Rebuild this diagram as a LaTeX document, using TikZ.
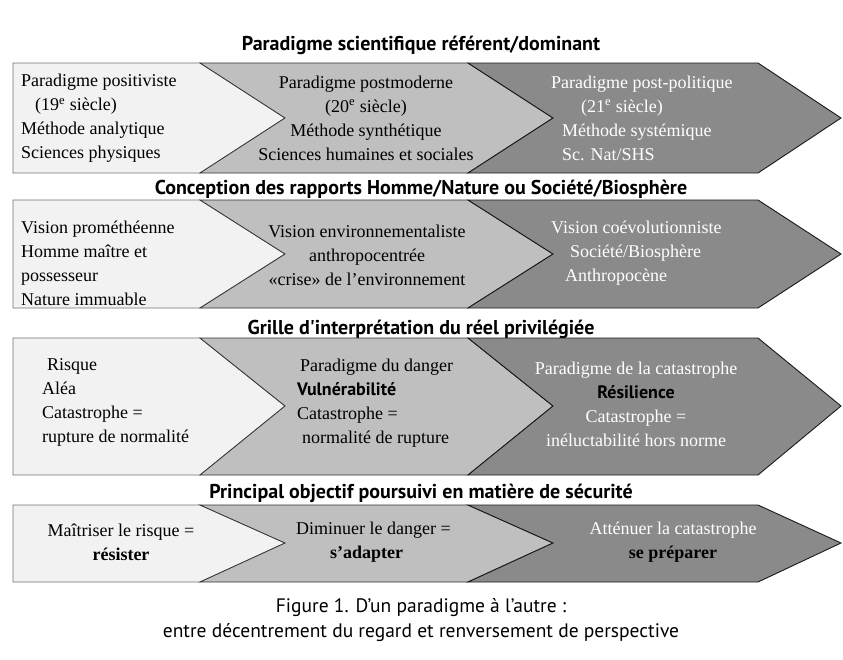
\documentclass[tikz,border=0pt]{standalone}
\usepackage{fontspec}
\setmainfont{Liberation Serif}
\newfontfamily\headfont{PT Sans}

\begin{document}
\begin{tikzpicture}[yscale=-1, x=1pt, y=1pt,
    chevWhite/.style={fill=black!5, draw=black!55, line width=0.7pt},
    chevLight/.style={fill=black!25, draw=black!80, line width=0.8pt},
    chevDark/.style={fill=black!46, draw=black!90, line width=0.9pt},
    rowTitle/.style={font=\headfont\bfseries\fontsize{20}{22}\selectfont},
    boxText/.style={font=\fontsize{18}{24}\selectfont, inner sep=0pt},
    darkText/.style={boxText, text=white},
    capText/.style={font=\headfont\fontsize{19.5}{25}\selectfont, align=center}]
    \useasboundingbox[fill=white] (0,0) rectangle (843,659);

    % Draw the titles of the rows
    \node[rowTitle] (title1) at (421,45) {Paradigme scientifique référent/dominant};
    \node[rowTitle] (title2) at (421,189) {Conception des rapports Homme/Nature ou Société/Biosphère};
    \node[rowTitle] (title3) at (421,329) {Grille d'interprétation du réel privilégiée};
    \node[rowTitle] (title4) at (421,493) {Principal objectif poursuivi en matière de sécurité};

    % Row 1
    \draw[chevWhite] (13,63) -- (200,63) -- (285,118) -- (200,173) -- (13,173) -- cycle;
    \draw[chevLight] (200,63) -- (468,63) -- (553,118) -- (468,173) -- (200,173) -- (285,118) -- cycle;
    \draw[chevDark] (468,63) -- (758,63) -- (841,118) -- (758,173) -- (468,173) -- (553,118) -- cycle;
    \node[boxText, anchor=west, align=left] (pos) at (21,118)
        {Paradigme positiviste\\\hspace*{14pt}(19\textsuperscript{e} siècle)\\Méthode analytique\\Sciences physiques};
    \node[boxText, align=center] (postmod) at (366,118)
        {Paradigme postmoderne\\(20\textsuperscript{e} siècle)\\Méthode synthétique\\Sciences humaines et sociales};
    \node[darkText, anchor=west, align=left] (postpol) at (551,118)
        {Paradigme post-politique\\\hspace*{30pt}(21\textsuperscript{e} siècle)\\\hspace*{11pt}Méthode systémique\\\hspace*{11pt}Sc. Nat/SHS};

    % Row 2
    \draw[chevWhite] (13,200) -- (200,200) -- (285,254) -- (200,308) -- (13,308) -- cycle;
    \draw[chevLight] (200,200) -- (468,200) -- (553,254) -- (468,308) -- (200,308) -- (285,254) -- cycle;
    \draw[chevDark] (468,200) -- (758,200) -- (841,254) -- (758,308) -- (468,308) -- (553,254) -- cycle;
    \node[boxText, anchor=west, align=left] (prom) at (21,263)
        {Vision prométhéenne\\Homme maître et\\possesseur\\Nature immuable};
    \node[boxText, align=center] (envir) at (367,255)
        {Vision environnementaliste\\anthropocentrée\\«crise» de l’environnement};
    \node[darkText, anchor=west, align=left] (coevol) at (551,253)
        {Vision coévolutionniste\\\hspace*{19pt}Société/Biosphère\\\hspace*{14pt}Anthropocène};

    % Row 3
    \draw[chevWhite] (13,338) -- (200,338) -- (285,406) -- (200,475) -- (13,475) -- cycle;
    \draw[chevLight] (200,338) -- (468,338) -- (553,406) -- (468,475) -- (200,475) -- (285,406) -- cycle;
    \draw[chevDark] (468,338) -- (758,338) -- (841,406) -- (758,475) -- (468,475) -- (553,406) -- cycle;
    \node[boxText, anchor=west, align=left] (risk) at (42,402)
        {\hspace*{5pt}Risque\\Aléa\\Catastrophe =\\rupture de normalité};
    \node[boxText, anchor=west, align=left] (danger) at (297,403)
        {\hspace*{3pt}Paradigme du danger\\{\headfont\bfseries Vulnérabilité}\\Catastrophe =\\\hspace*{5pt}normalité de rupture};
    \node[darkText, align=center] (catas) at (636,404)
        {Paradigme de la catastrophe\\{\color{black}\headfont\bfseries Résilience}\\Catastrophe =\\inéluctabilité hors norme};

    % Row 4
    \draw[chevWhite] (13,505) -- (200,505) -- (285,543) -- (200,582) -- (13,582) -- cycle;
    \draw[chevLight] (200,505) -- (468,505) -- (553,543) -- (468,582) -- (200,582) -- (285,543) -- cycle;
    \draw[chevDark] (468,505) -- (758,505) -- (841,543) -- (758,582) -- (468,582) -- (553,543) -- cycle;
    \node[boxText, align=center] (resist) at (121,542)
        {Maîtriser le risque =\\\textbf{résister}};
    \node[boxText, anchor=west, align=left] (adapt) at (296,542)
        {Diminuer le danger =\\\hspace*{34pt}\textbf{s’adapter}};
    \node[darkText, align=center] (prepare) at (673,542)
        {Atténuer la catastrophe\\{\color{black}\textbf{se préparer}}};

    % Draw the caption
    \node[capText] (caption) at (421,620)
        {Figure 1. D’un paradigme à l’autre :\\entre décentrement du regard et renversement de perspective};
\end{tikzpicture}
\end{document}
